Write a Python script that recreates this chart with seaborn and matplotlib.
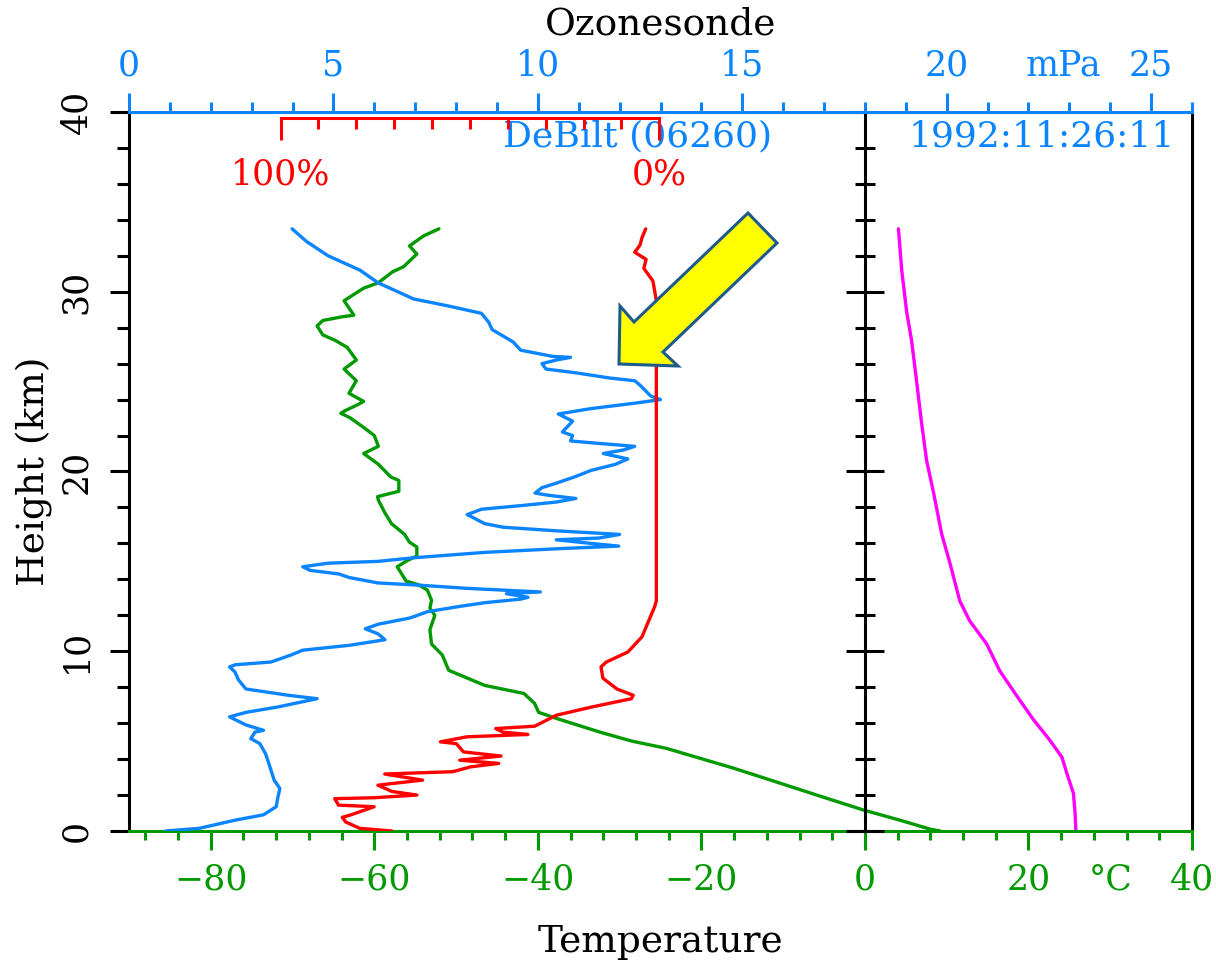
import numpy as np
import pandas as pd
import matplotlib
matplotlib.use("Agg")
import matplotlib.pyplot as plt
import seaborn as sns
from matplotlib.ticker import MultipleLocator, FixedLocator, NullFormatter
from matplotlib.patches import Polygon

# ---------------- data ----------------
# Temperature profile (green), degC vs km
temp_h = [0.0, 0.1, 0.6, 1.17, 2.0, 2.9, 3.5, 4.6, 5.0, 5.5, 6.26, 6.6, 7.1, 7.65, 8.1, 8.94,
          9.8, 10.4, 11.2, 12.0, 12.4, 12.83, 13.4, 13.7, 13.9, 14.7, 15.06, 15.3, 15.8, 16.07,
          16.5, 17.1, 17.7, 18.4, 18.6, 18.9, 19.5, 19.7, 20.4, 21.0, 21.4, 22.0, 22.45, 23.0,
          23.24, 23.4, 23.7, 23.9, 24.35, 25.05, 25.7, 26.2, 26.9, 27.3, 27.6, 28.1, 28.4, 28.6,
          28.7, 29.5, 30.2, 30.5, 31.1, 31.4, 32.1, 32.55, 33.1, 33.5]
temp_c = [9.2, 8.0, 4.3, -0.2, -5.9, -12.0, -16.1, -24.3, -28.5, -32.4, -37.7, -39.9, -40.4,
          -41.7, -46.5, -50.9, -51.7, -53.0, -53.2, -52.6, -53.2, -53.0, -53.5, -54.6, -56.1,
          -57.2, -55.9, -54.8, -54.8, -55.7, -56.3, -57.9, -58.7, -59.5, -59.6, -57.0, -57.0,
          -58.0, -59.5, -61.3, -59.5, -60.0, -61.3, -63.0, -64.1, -63.5, -62.1, -61.3, -63.1,
          -62.2, -63.7, -62.2, -63.3, -64.8, -66.3, -67.0, -66.3, -64.0, -62.5, -63.7, -61.3,
          -59.5, -57.8, -56.4, -54.8, -55.7, -54.0, -52.1]

# Right-panel profile (magenta), plotted on the temperature scale
mag_h = [0.0, 1.0, 2.1, 3.2, 4.1, 5.06, 6.2, 7.5, 8.9, 10.4, 11.7, 12.8, 14.9, 16.5, 18.8,
         20.6, 22.8, 25.1, 27.3, 28.9, 31.2, 33.5]
mag_c = [25.8, 25.7, 25.5, 24.7, 24.1, 22.6, 20.6, 18.6, 16.5, 14.9, 12.8, 11.6, 10.4, 9.4,
         8.4, 7.55, 6.9, 6.3, 5.7, 5.1, 4.5, 4.1]

# Relative humidity (red), percent
rh_h = [0.0, 0.15, 0.5, 0.76, 0.9, 1.35, 1.44, 1.8, 1.85, 2.0, 2.2, 2.55, 2.83, 3.17, 3.3,
        3.57, 3.76, 3.94, 4.17, 4.4, 4.86, 4.96, 5.24, 5.37, 5.5, 5.7, 5.83, 6.44, 6.9, 7.36,
        7.55, 7.9, 8.5, 9.13, 9.4, 9.96, 10.8, 11.7, 12.5, 12.8, 29.5, 30.6, 31.3, 31.8, 32.2,
        32.6, 33.0, 33.5]
rh_pct = [70.6, 79.1, 82.8, 83.7, 81.4, 75.3, 84.7, 85.7, 75.3, 64.0, 70.6, 74.3, 62.5, 72.5,
          54.5, 49.8, 42.4, 52.7, 41.8, 51.7, 53.6, 57.8, 50.8, 34.7, 41.3, 43.2, 32.9, 27.2,
          17.8, 7.4, 6.9, 11.2, 14.9, 15.4, 14.0, 8.3, 4.6, 2.8, 1.2, 0.8, 0.8, 1.7, 4.1, 3.5,
          6.5, 5.1, 4.6, 3.6]

# Ozone partial pressure (blue), mPa
oz_h = [0.0, 0.15, 0.6, 0.9, 1.35, 1.85, 2.37, 2.83, 3.76, 4.3, 4.86, 5.14, 5.5, 5.6, 5.9,
        6.35, 6.6, 6.9, 7.36, 7.55, 7.9, 8.4, 8.85, 9.13, 9.25, 9.4, 9.78, 10.06, 10.33, 10.64,
        10.97, 11.25, 11.5, 11.85, 12.2, 12.5, 12.7, 12.9, 13.0, 13.2, 13.3, 13.5, 13.67, 13.8,
        14.1, 14.3, 14.5, 14.7, 14.9, 15.0, 15.2, 15.5, 15.7, 15.85, 16.0, 16.2, 16.3, 16.5,
        16.7, 16.9, 17.1, 17.5, 17.6, 17.9, 18.1, 18.3, 18.5, 18.67, 18.8, 19.1, 19.35, 19.7,
        20.06, 20.4, 20.7, 21.0, 21.2, 21.4, 21.6, 21.7, 22.0, 22.2, 22.8, 23.2, 23.5, 23.8,
        24.0, 24.2, 24.8, 25.05, 25.2, 25.5, 25.7, 26.0, 26.2, 26.35, 26.4, 26.75, 27.2, 27.9,
        28.3, 28.8, 29.2, 29.6, 30.5, 31.2, 32.0, 32.8, 33.5]
oz_mpa = [0.89, 1.72, 2.59, 3.29, 3.6, 3.64, 3.69, 3.55, 3.42, 3.34, 3.2, 2.98, 3.08, 3.29,
          2.86, 2.46, 2.86, 3.64, 4.6, 3.9, 2.86, 2.68, 2.59, 2.46, 2.6, 3.47, 3.95, 4.25, 5.39,
          6.26, 6.09, 5.78, 6.09, 6.87, 7.3, 8.1, 8.7, 9.58, 9.76, 9.23, 10.06, 8.26, 7.14, 6.09,
          5.39, 5.13, 4.43, 4.25, 4.87, 6.09, 6.96, 8.7, 10.45, 11.98, 11.3, 10.45, 11.5, 12.0,
          10.45, 9.15, 8.7, 8.36, 8.27, 8.62, 9.58, 10.45, 10.93, 10.28, 9.93, 10.1, 10.45, 10.9,
          11.3, 11.9, 12.2, 11.6, 12.1, 12.37, 11.3, 10.8, 10.85, 10.6, 10.85, 10.5, 11.3, 12.37,
          13.0, 12.76, 12.5, 12.37, 11.76, 10.9, 10.2, 10.1, 10.45, 10.8, 10.37, 9.58, 9.4, 8.88,
          8.8, 8.62, 7.83, 6.96, 6.09, 5.65, 4.87, 4.34, 3.99]

height_ticks = [0, 10, 20, 30, 40]
height_labels = ["0", "10", "20", "30", "40"]
temp_ticks = [-80, -60, -40, -20, 0, 20, 40]
temp_labels = ["\u221280", "\u221260", "\u221240", "\u221220", "0", "20", "40"]
oz_ticks = [0, 5, 10, 15, 20, 25]
oz_labels = ["0", "5", "10", "15", "20", "25"]
rh_ticks = [100, 0]
rh_labels = ["100%", "0%"]

# ---------------- style ----------------
sns.set_theme(style="white")
plt.rcParams["font.family"] = ["DejaVu Serif", "DejaVu Sans"]

BLUE = "#0A84FF"
GREEN = "#009A00"
RED = "#FF0000"
MAGENTA = "#FF00FF"
BLACK = "#000000"
LW = 2.4
AX_LW = 2.2
TICK_FS = 25
LABEL_FS = 27

W, H = 1216, 963
fig = plt.figure(figsize=(W / 100, H / 100), dpi=100)
fig.patch.set_facecolor("white")
L, R, B, T = 129, 1192, 831, 112
ax = fig.add_axes([L / W, 1 - B / H, (R - L) / W, (B - T) / H])
ax.set_xlim(-90, 40)
ax.set_ylim(0, 40)

# main axis: temperature (bottom) and height (left/right)
for s in ["left", "right"]:
    ax.spines[s].set_color(BLACK)
    ax.spines[s].set_linewidth(AX_LW)
ax.spines["bottom"].set_color(GREEN)
ax.spines["bottom"].set_linewidth(AX_LW)
ax.spines["top"].set_visible(False)

ax.yaxis.set_minor_locator(MultipleLocator(2))
ax.set_yticks(height_ticks, labels=height_labels, rotation=90, va="center")
ax.tick_params(axis="y", which="both", direction="out", left=True, right=True,
               color=BLACK, width=AX_LW, labelsize=TICK_FS, labelcolor=BLACK)
ax.tick_params(axis="y", which="major", length=14, pad=12)
ax.tick_params(axis="y", which="minor", length=8.5)

ax.set_xticks(temp_ticks, labels=temp_labels)
ax.xaxis.set_minor_locator(MultipleLocator(4))
ax.tick_params(axis="x", which="both", direction="out", bottom=True, top=False,
               color=GREEN, width=AX_LW, labelsize=TICK_FS, labelcolor=GREEN)
ax.tick_params(axis="x", which="major", length=13.5, pad=9)
ax.tick_params(axis="x", which="minor", length=6.5)
ax.annotate("\u00b0C", xy=(30, 0), xycoords=("data", "axes fraction"),
            xytext=(0, -(13.5 + 9)), textcoords="offset points",
            ha="center", va="top", fontsize=TICK_FS, color=GREEN)
ax.set_xlabel("Temperature", fontsize=LABEL_FS, color=BLACK, labelpad=20)
ax.grid(False)

sns.lineplot(x=temp_c, y=temp_h, ax=ax, color=GREEN, lw=LW, sort=False,
             estimator=None, orient="y")
sns.lineplot(x=mag_c, y=mag_h, ax=ax, color=MAGENTA, lw=LW, sort=False,
             estimator=None, orient="y")

ax.text(-27.8, 38.62, "DeBilt (06260)", color=BLUE, fontsize=TICK_FS + 1,
        ha="center", va="center")
ax.text(21.6, 38.62, "1992:11:26:11", color=BLUE, fontsize=TICK_FS + 1,
        ha="center", va="center")

# divider at 0 degC with ticks on both sides
ax_div = ax.twinx()
ax_div.set_ylim(0, 40)
for s in ["top", "bottom", "right"]:
    ax_div.spines[s].set_visible(False)
ax_div.spines["left"].set_position(("data", 0))
ax_div.spines["left"].set_color(BLACK)
ax_div.spines["left"].set_linewidth(AX_LW)
ax_div.yaxis.set_ticks_position("left")
ax_div.yaxis.set_major_locator(MultipleLocator(10))
ax_div.yaxis.set_minor_locator(MultipleLocator(2))
ax_div.yaxis.set_major_formatter(NullFormatter())
ax_div.tick_params(axis="y", which="both", direction="inout", color=BLACK, width=AX_LW)
ax_div.tick_params(axis="y", which="major", length=27)
ax_div.tick_params(axis="y", which="minor", length=14.5)

# ozone axis (top)
ax_oz = ax.twiny()
ax_oz.set_xlim(0, 26)
for s in ["left", "right", "bottom"]:
    ax_oz.spines[s].set_visible(False)
ax_oz.spines["top"].set_color(BLUE)
ax_oz.spines["top"].set_linewidth(AX_LW)
ax_oz.set_xticks(oz_ticks, labels=oz_labels)
ax_oz.xaxis.set_minor_locator(MultipleLocator(1))
ax_oz.tick_params(axis="x", which="both", direction="out", color=BLUE, width=AX_LW,
                  labelsize=TICK_FS, labelcolor=BLUE)
ax_oz.tick_params(axis="x", which="major", length=13.5, pad=8)
ax_oz.tick_params(axis="x", which="minor", length=7)
ax_oz.annotate("mPa", xy=(22.85, 1), xycoords=("data", "axes fraction"),
               xytext=(0, 13.5 + 8), textcoords="offset points",
               ha="center", va="bottom", fontsize=TICK_FS, color=BLUE)
ax_oz.set_xlabel("Ozonesonde", fontsize=LABEL_FS, color=BLACK, labelpad=10)
sns.lineplot(x=oz_mpa, y=oz_h, ax=ax_oz, color=BLUE, lw=LW, sort=False,
             estimator=None, orient="y")

# relative humidity scale (red bracket near the top)
ax_rh = ax.twiny()
ax_rh.set_xlim(140.0, -140.6)
for s in ["left", "right", "top"]:
    ax_rh.spines[s].set_visible(False)
ax_rh.spines["bottom"].set_position(("data", 39.65))
ax_rh.spines["bottom"].set_bounds(0, 100)
ax_rh.spines["bottom"].set_color(RED)
ax_rh.spines["bottom"].set_linewidth(AX_LW)
ax_rh.xaxis.set_ticks_position("bottom")
ax_rh.xaxis.set_label_position("bottom")
ax_rh.set_xticks(rh_ticks, labels=rh_labels)
ax_rh.xaxis.set_minor_locator(FixedLocator(list(range(10, 100, 10))))
ax_rh.tick_params(axis="x", which="both", direction="out", color=RED, width=AX_LW,
                  labelsize=TICK_FS, labelcolor=RED)
ax_rh.tick_params(axis="x", which="major", length=16, pad=12)
ax_rh.tick_params(axis="x", which="minor", length=8)
sns.lineplot(x=rh_pct, y=rh_h, ax=ax_rh, color=RED, lw=LW, sort=False,
             estimator=None, orient="y")

for a in (ax_div, ax_oz, ax_rh):
    a.set_ylim(0, 40)
    a.patch.set_visible(False)
    a.grid(False)
ax.set_ylabel("Height (km)", fontsize=LABEL_FS, color=BLACK, labelpad=4)

# highlight arrow (annotation, figure pixel coordinates)
arrow_px = [(619, 364), (620, 306), (634, 322), (748, 213), (777, 243), (663, 352), (678, 366)]
arrow = Polygon([(x / W, 1 - y / H) for x, y in arrow_px], closed=True,
                transform=fig.transFigure, facecolor="#FFFF00", edgecolor="#1F5A8C",
                linewidth=2.2, zorder=10)
fig.patches.append(arrow)

fig.savefig("out.png", dpi=100)
